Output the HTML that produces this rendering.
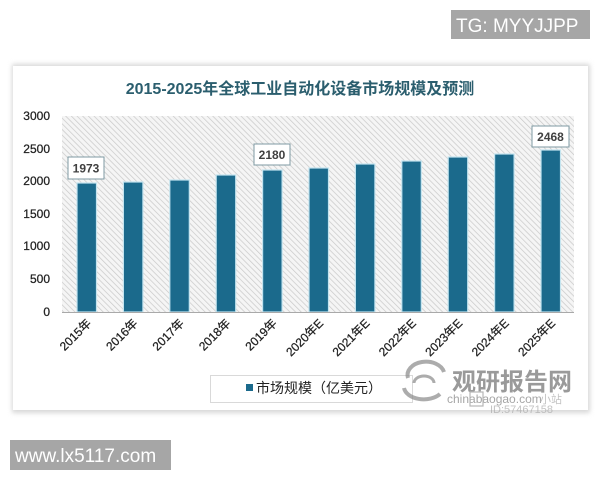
<!DOCTYPE html>
<html><head><meta charset="utf-8">
<style>
html,body{margin:0;padding:0;background:#fff;}
body{width:600px;height:480px;overflow:hidden;position:relative;font-family:"Liberation Sans","Noto Sans CJK SC",sans-serif;}
svg{position:absolute;left:0;top:0;}
</style></head>
<body>
<svg width="600" height="480" viewBox="0 0 600 480" xmlns="http://www.w3.org/2000/svg">
<defs>
<pattern id="hatch" width="4" height="4" patternUnits="userSpaceOnUse" patternTransform="rotate(-45)">
<rect width="4" height="4" fill="#f5f5f5"/>
<line x1="0" y1="0" x2="0" y2="4" stroke="#c8c8c8" stroke-width="1.4"/>
</pattern>
<filter id="sh" x="-5%" y="-5%" width="110%" height="110%">
<feGaussianBlur stdDeviation="2.5"/>
</filter>
</defs>

<!-- TG box -->
<rect x="451" y="10" width="139" height="29" fill="#a6a6a6"/>
<text x="456" y="32" font-size="19" fill="#fff" font-family="Liberation Sans, sans-serif">TG: MYYJJPP</text>

<!-- card shadow -->
<rect x="12" y="64" width="578" height="349" fill="#d8d8d8" filter="url(#sh)"/>
<rect x="13" y="66" width="575" height="344" fill="#ffffff"/>

<!-- title -->
<text x="300" y="94" text-anchor="middle" font-size="16" font-weight="bold" fill="#2b5e6e" font-family="Liberation Sans, Noto Sans CJK SC, sans-serif">2015-2025年全球工业自动化设备市场规模及预测</text>

<!-- plot hatch -->
<rect x="62" y="116" width="512" height="196" fill="url(#hatch)"/>

<!-- y labels -->
<g font-size="12" fill="#222" stroke="#222" stroke-width="0.25" text-anchor="end" font-family="Liberation Sans, sans-serif">
<text x="50" y="120">3000</text>
<text x="50" y="153">2500</text>
<text x="50" y="185">2000</text>
<text x="50" y="218">1500</text>
<text x="50" y="250">1000</text>
<text x="50" y="283">500</text>
<text x="50" y="316">0</text>
</g>

<!-- bars -->
<g fill="#1b6a8c" stroke="#c4e4ef" stroke-width="1.2">
<rect x="77" y="183" width="19.5" height="129"/>
<rect x="123.4" y="182" width="19.5" height="130"/>
<rect x="169.8" y="180" width="19.5" height="132"/>
<rect x="216.2" y="175" width="19.5" height="137"/>
<rect x="262.6" y="170" width="19.5" height="142"/>
<rect x="309" y="168" width="19.5" height="144"/>
<rect x="355.4" y="164" width="19.5" height="148"/>
<rect x="401.8" y="161" width="19.5" height="151"/>
<rect x="448.2" y="157" width="19.5" height="155"/>
<rect x="494.6" y="154" width="19.5" height="158"/>
<rect x="541" y="150" width="19.5" height="162"/>
</g>

<!-- axis -->
<line x1="62" y1="312.5" x2="574" y2="312.5" stroke="#a9a9a9" stroke-width="1"/>

<!-- data labels -->
<g font-size="12" font-weight="bold" fill="#404040" font-family="Liberation Sans, sans-serif" text-anchor="middle">
<rect x="68" y="157" width="36" height="22" fill="#fff" stroke="#7f9aa3" stroke-width="1"/>
<text x="86" y="172.5">1973</text>
<rect x="254" y="144" width="36" height="21" fill="#fff" stroke="#7f9aa3" stroke-width="1"/>
<text x="272" y="159">2180</text>
<rect x="532" y="126" width="37" height="21" fill="#fff" stroke="#7f9aa3" stroke-width="1"/>
<text x="550.5" y="141">2468</text>
</g>

<!-- x labels -->
<g font-size="12" fill="#222" stroke="#222" stroke-width="0.25" text-anchor="end" font-family="Liberation Sans, Noto Sans CJK SC, sans-serif">
<text transform="translate(92,324) rotate(-45)">2015年</text>
<text transform="translate(138.4,324) rotate(-45)">2016年</text>
<text transform="translate(184.8,324) rotate(-45)">2017年</text>
<text transform="translate(231.2,324) rotate(-45)">2018年</text>
<text transform="translate(277.6,324) rotate(-45)">2019年</text>
<text transform="translate(324,324) rotate(-45)">2020年E</text>
<text transform="translate(370.4,324) rotate(-45)">2021年E</text>
<text transform="translate(416.8,324) rotate(-45)">2022年E</text>
<text transform="translate(463.2,324) rotate(-45)">2023年E</text>
<text transform="translate(509.6,324) rotate(-45)">2024年E</text>
<text transform="translate(556,324) rotate(-45)">2025年E</text>
</g>

<!-- legend -->
<rect x="210.5" y="375.5" width="202" height="27" fill="#fff" stroke="#d9d9d9" stroke-width="1"/>
<rect x="246" y="384" width="7" height="7" fill="#1b6a8c"/>
<text x="256" y="393" font-size="14" fill="#222" font-family="Liberation Sans, Noto Sans CJK SC, sans-serif">市场规模（亿美元）</text>

<!-- watermark -->
<g opacity="0.7">
<path d="M408 378 A18 13 0 0 1 444 372" fill="none" stroke="#8a8a8a" stroke-width="4"/>
<path d="M404 388 A20 13 0 0 0 440 394" fill="none" stroke="#8a8a8a" stroke-width="4"/>
<path d="M414 383 A10 7 0 0 1 434 383" fill="none" stroke="#8a8a8a" stroke-width="3"/>
<text x="452" y="390" font-size="24" font-weight="bold" fill="#707070" font-family="Liberation Sans, Noto Sans CJK SC, sans-serif">观研报告网</text>
<text x="447" y="403" font-size="12" fill="#808080" font-family="Liberation Sans, sans-serif">chinabaogao.com</text>
<text x="540" y="403" font-size="11" fill="#aaa" font-family="Liberation Sans, Noto Sans CJK SC, sans-serif">小站</text>
<rect x="470" y="392" width="13" height="14" fill="none" stroke="#999" stroke-width="1.2"/>
<text x="490" y="413" font-size="11" fill="#aaa" font-family="Liberation Sans, sans-serif">ID:57467158</text>
</g>

<!-- bottom-left box -->
<rect x="10" y="440" width="161" height="30" fill="#a6a6a6"/>
<text x="15" y="462" font-size="19" fill="#fff" font-family="Liberation Sans, sans-serif">www.lx5117.com</text>
</svg>
</body></html>
